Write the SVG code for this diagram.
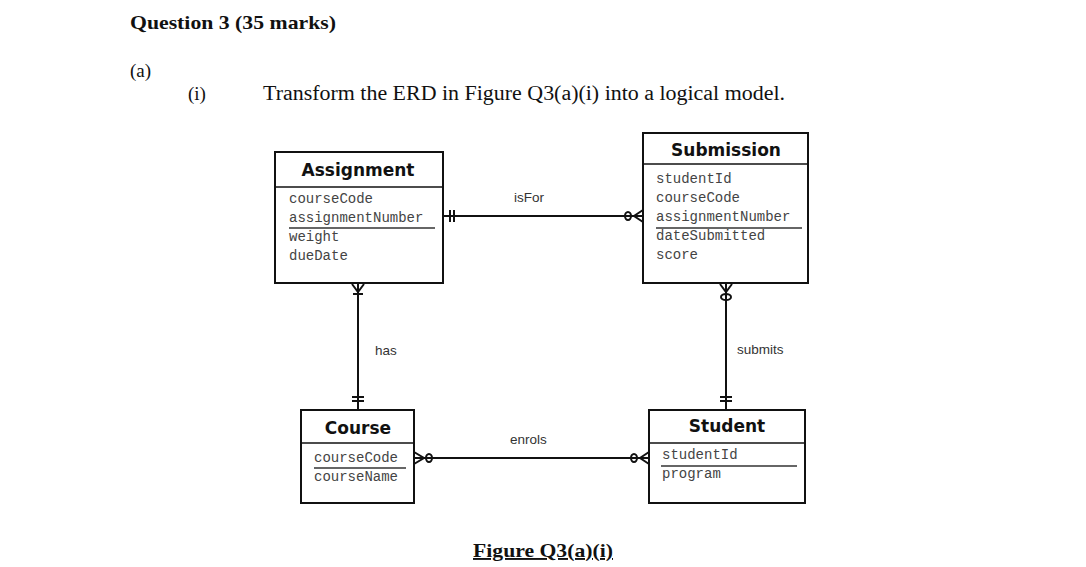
<svg xmlns="http://www.w3.org/2000/svg" width="1086" height="567" viewBox="0 0 1086 567">
<style>
.box{fill:#fff;stroke:#111;stroke-width:2}
.sep{stroke:#111;stroke-width:1.5}
.uline{stroke:#333;stroke-width:1.5}
.title{font-family:"DejaVu Sans","Liberation Sans",sans-serif;font-weight:bold;font-size:17px;fill:#111;text-anchor:middle}
.attr{font-family:"Liberation Mono","Courier New",monospace;font-size:14px;fill:#444}
.rel{font-family:"Liberation Sans",Arial,sans-serif;font-size:13.5px;fill:#333}
.doc{font-family:"Liberation Serif","Times New Roman",serif;fill:#111}
.ln{stroke:#111;stroke-width:2;fill:none}
.mk{stroke:#111;stroke-width:2;fill:none}
</style>
<rect width="1086" height="567" fill="#fff"/>
<g id="header">
<text class="doc" x="130" y="29" font-size="19" font-weight="bold" textLength="206" lengthAdjust="spacingAndGlyphs">Question 3 (35 marks)</text>
<text class="doc" x="130" y="77" font-size="19">(a)</text>
<text class="doc" x="188" y="100" font-size="19">(i)</text>
<text class="doc" x="263" y="100" font-size="20" textLength="522" lengthAdjust="spacingAndGlyphs">Transform the ERD in Figure Q3(a)(i) into a logical model.</text>
</g>
<g id="connectors">
<g id="isFor">
<line class="ln" x1="444" y1="216" x2="643" y2="216"/>
<line class="mk" x1="450" y1="210" x2="450" y2="222"/>
<line class="mk" x1="454" y1="210" x2="454" y2="222"/>
<path class="mk" d="M643 210 L634 216 L643 222"/>
<ellipse class="mk" cx="628" cy="216" rx="3" ry="4" fill="#fff"/>
<text class="rel" x="514" y="202">isFor</text>
</g>
<g id="has">
<line class="ln" x1="358" y1="283" x2="358" y2="410"/>
<path class="mk" d="M352 284 L358 292 L364 284"/>
<line class="mk" x1="353" y1="294" x2="363" y2="294"/>
<line class="mk" x1="352" y1="397" x2="364" y2="397"/>
<line class="mk" x1="352" y1="401" x2="364" y2="401"/>
<text class="rel" x="375" y="355">has</text>
</g>
<g id="submits">
<line class="ln" x1="726" y1="283" x2="726" y2="410"/>
<path class="mk" d="M720 284 L726 292 L732 284"/>
<ellipse class="mk" cx="726" cy="297" rx="5" ry="3" fill="#fff"/>
<line class="mk" x1="720" y1="397" x2="732" y2="397"/>
<line class="mk" x1="720" y1="401" x2="732" y2="401"/>
<text class="rel" x="737" y="354">submits</text>
</g>
<g id="enrols">
<line class="ln" x1="414" y1="458" x2="649" y2="458"/>
<path class="mk" d="M414 452 L424 458 L414 464"/>
<ellipse class="mk" cx="429" cy="458" rx="3" ry="4" fill="#fff"/>
<path class="mk" d="M649 452 L640 458 L649 464"/>
<ellipse class="mk" cx="634" cy="458" rx="3" ry="4" fill="#fff"/>
<text class="rel" x="510" y="444">enrols</text>
</g>
</g>
<g id="Assignment">
<rect class="box" x="275" y="152" width="168" height="131"/>
<line class="sep" x1="275" y1="187" x2="443" y2="187"/>
<text class="title" x="358" y="176">Assignment</text>
<text class="attr" x="289" y="203">courseCode</text>
<text class="attr" x="289" y="222">assignmentNumber</text>
<line class="uline" x1="289" y1="228" x2="435" y2="228"/>
<text class="attr" x="289" y="241">weight</text>
<text class="attr" x="289" y="260">dueDate</text>
</g>
<g id="Submission">
<rect class="box" x="643" y="133" width="165" height="150"/>
<line class="sep" x1="643" y1="164" x2="808" y2="164"/>
<text class="title" x="726" y="156">Submission</text>
<text class="attr" x="656" y="183">studentId</text>
<text class="attr" x="656" y="202">courseCode</text>
<text class="attr" x="656" y="221">assignmentNumber</text>
<line class="uline" x1="656" y1="228" x2="802" y2="228"/>
<text class="attr" x="656" y="240">dateSubmitted</text>
<text class="attr" x="656" y="259">score</text>
</g>
<g id="Course">
<rect class="box" x="301" y="410" width="113" height="93"/>
<line class="sep" x1="301" y1="443" x2="414" y2="443"/>
<text class="title" x="358" y="434">Course</text>
<text class="attr" x="314" y="462">courseCode</text>
<line class="uline" x1="314" y1="468" x2="406" y2="468"/>
<text class="attr" x="314" y="481">courseName</text>
</g>
<g id="Student">
<rect class="box" x="649" y="410" width="156" height="93"/>
<line class="sep" x1="649" y1="443" x2="805" y2="443"/>
<text class="title" x="727" y="432">Student</text>
<text class="attr" x="662" y="459">studentId</text>
<line class="uline" x1="661" y1="466" x2="797" y2="466"/>
<text class="attr" x="662" y="478">program</text>
</g>
<g id="caption">
<text class="doc" x="473" y="557" font-size="19" font-weight="bold" text-decoration="underline" textLength="140" lengthAdjust="spacingAndGlyphs">Figure Q3(a)(i)</text>
</g>
</svg>
